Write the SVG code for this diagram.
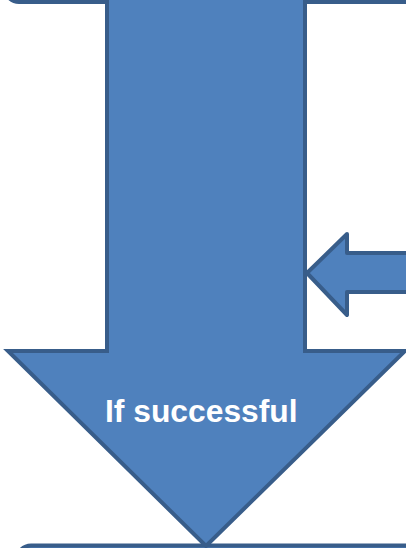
<svg xmlns="http://www.w3.org/2000/svg" width="406" height="548" viewBox="0 0 406 548">
<style>
.shape{fill:#4F81BD;stroke:#385D8A;stroke-width:4;stroke-linejoin:miter}
.side{stroke-linejoin:round}
.lbl{font-family:"Liberation Sans",Arial,sans-serif;font-weight:bold;font-size:31.8px;fill:#FFFFFF}
</style>
<rect width="406" height="548" fill="#FFFFFF"/>
<g id="top-box"><rect class="shape" x="5" y="-60" width="420" height="62" rx="14"/></g>
<g id="bottom-box"><rect class="shape" x="17" y="545.5" width="420" height="60" rx="14"/></g>
<g id="connectors">
<g id="main-arrow">
<path class="shape" d="M107,-5 L305,-5 L305,351 L405,351 L206,546 L8,351 L107,351 Z"/>
<text class="lbl" x="105" y="422">If successful</text>
</g>
<g id="side-arrow">
<path class="shape side" d="M420,253 L347,253 L347,234 L307,273 L347,315 L347,292 L420,292 Z"/>
</g>
</g>
</svg>
